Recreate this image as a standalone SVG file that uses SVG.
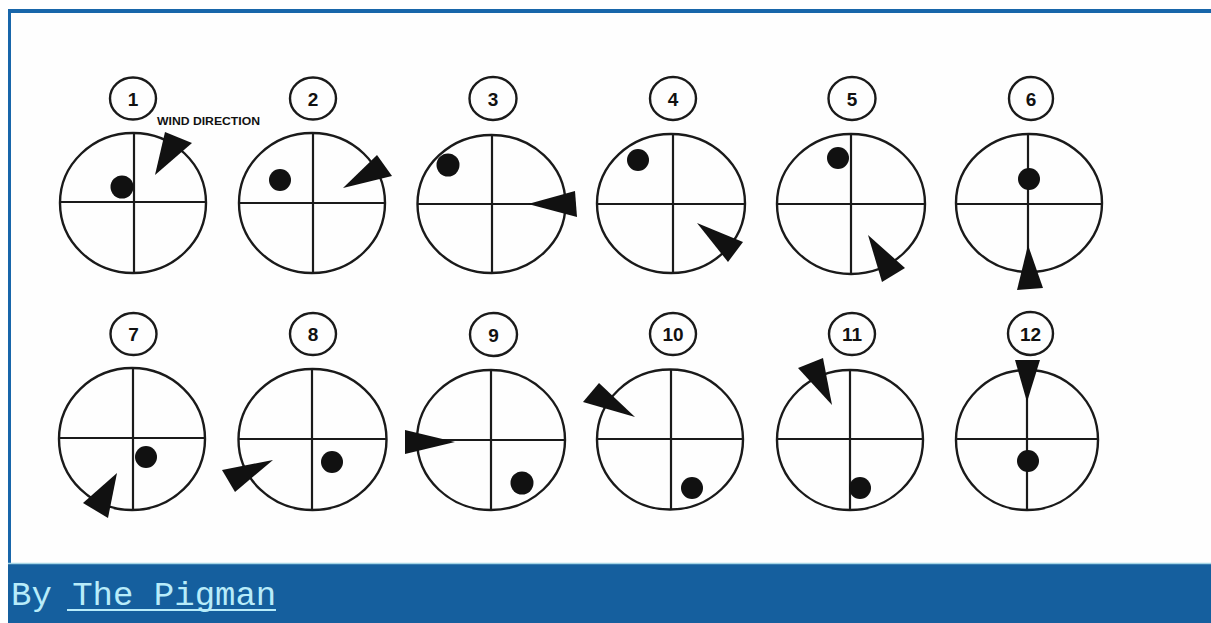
<svg xmlns="http://www.w3.org/2000/svg" width="1211" height="623" viewBox="0 0 1211 623">
<style>
.ring{fill:none;stroke:#1a1a1a;stroke-width:2.4}
.cross{stroke:#1a1a1a;stroke-width:2.2}
.lab{fill:none;stroke:#1a1a1a;stroke-width:2.4}
.num{font-family:"Liberation Sans",Arial,sans-serif;font-weight:bold;font-size:19px;fill:#111;text-anchor:middle}
.dot{fill:#111}
.arw{fill:#111}
.foot{font-family:"Liberation Mono","DejaVu Sans Mono",monospace;font-size:34px;fill:#b8ecfa}
</style>
<rect x="0" y="0" width="1211" height="623" fill="#ffffff"/>
<rect x="8" y="9" width="1203" height="614" fill="#1866aa"/>
<rect x="11" y="13" width="1200" height="550" fill="#fefefe"/>
<rect x="8" y="563" width="1203" height="60" fill="#155f9e"/>
<line x1="8" y1="563.5" x2="1211" y2="563.5" stroke="#a6d6e6" stroke-width="1.5"/>

<g id="panel1">
<ellipse class="lab" cx="133" cy="98.5" rx="23" ry="21"/>
<text class="num" x="133" y="106">1</text>
<text x="157" y="125" font-family="Liberation Sans,Arial,sans-serif" font-weight="bold" font-size="10" textLength="103" lengthAdjust="spacingAndGlyphs" fill="#111">WIND DIRECTION</text>
<ellipse class="ring" cx="133" cy="203" rx="73" ry="70"/>
<line class="cross" x1="60" y1="202" x2="206" y2="202"/>
<line class="cross" x1="134" y1="133" x2="134" y2="273"/>
<circle class="dot" cx="122" cy="187" r="11.5"/>
<polygon class="arw" points="155,175 165,132 192,143"/>
</g>

<g id="panel2">
<ellipse class="lab" cx="313" cy="98.5" rx="23" ry="21"/>
<text class="num" x="313" y="106">2</text>
<ellipse class="ring" cx="312" cy="203" rx="73" ry="70"/>
<line class="cross" x1="239" y1="203" x2="385" y2="203"/>
<line class="cross" x1="313" y1="133" x2="313" y2="273"/>
<circle class="dot" cx="280" cy="180" r="11"/>
<polygon class="arw" points="343,188 377,155 392,176"/>
</g>

<g id="panel3">
<ellipse class="lab" cx="493" cy="98.5" rx="23.5" ry="21.5"/>
<text class="num" x="493" y="106">3</text>
<ellipse class="ring" cx="491.5" cy="204" rx="74" ry="69"/>
<line class="cross" x1="418" y1="204" x2="565" y2="204"/>
<line class="cross" x1="492" y1="135" x2="492" y2="273"/>
<circle class="dot" cx="448" cy="165" r="11.5"/>
<polygon class="arw" points="528,204 575,191 577,217"/>
</g>

<g id="panel4">
<ellipse class="lab" cx="673" cy="98.5" rx="23" ry="21.5"/>
<text class="num" x="673" y="106">4</text>
<ellipse class="ring" cx="671" cy="203.5" rx="74" ry="69.5"/>
<line class="cross" x1="597" y1="204" x2="745" y2="204"/>
<line class="cross" x1="673" y1="134" x2="673" y2="273"/>
<circle class="dot" cx="638" cy="160" r="11"/>
<polygon class="arw" points="697,223 743,242 728,262"/>
</g>

<g id="panel5">
<ellipse class="lab" cx="852" cy="98.5" rx="23.5" ry="21.5"/>
<text class="num" x="852" y="106">5</text>
<ellipse class="ring" cx="851" cy="204" rx="74" ry="70"/>
<line class="cross" x1="777" y1="204" x2="925" y2="204"/>
<line class="cross" x1="851" y1="134" x2="851" y2="274"/>
<circle class="dot" cx="838" cy="158" r="11"/>
<polygon class="arw" points="868,235 905,268 882,282"/>
</g>

<g id="panel6">
<ellipse class="lab" cx="1031" cy="98.5" rx="22" ry="21.5"/>
<text class="num" x="1031" y="106">6</text>
<ellipse class="ring" cx="1029" cy="203" rx="73" ry="69"/>
<line class="cross" x1="956" y1="204" x2="1102" y2="204"/>
<line class="cross" x1="1028" y1="134" x2="1028" y2="272"/>
<circle class="dot" cx="1029" cy="179" r="11"/>
<polygon class="arw" points="1028,245 1017,290 1043,288"/>
</g>

<g id="panel7">
<ellipse class="lab" cx="133.5" cy="334" rx="23" ry="21"/>
<text class="num" x="133.5" y="341">7</text>
<ellipse class="ring" cx="132" cy="439" rx="73" ry="71"/>
<line class="cross" x1="59" y1="438" x2="204" y2="438"/>
<line class="cross" x1="133" y1="368" x2="133" y2="510"/>
<circle class="dot" cx="146" cy="457" r="11"/>
<polygon class="arw" points="117,473 83,503 108,518"/>
</g>

<g id="panel8">
<ellipse class="lab" cx="313" cy="334" rx="23" ry="21"/>
<text class="num" x="313" y="341">8</text>
<ellipse class="ring" cx="312.5" cy="439.5" rx="74" ry="70.5"/>
<line class="cross" x1="239" y1="439" x2="387" y2="439"/>
<line class="cross" x1="312" y1="369" x2="312" y2="510"/>
<circle class="dot" cx="332" cy="462" r="11"/>
<polygon class="arw" points="273,460 222,470 235,492"/>
</g>

<g id="panel9">
<ellipse class="lab" cx="493.5" cy="334.5" rx="23.5" ry="21.5"/>
<text class="num" x="493.5" y="341.5">9</text>
<ellipse class="ring" cx="491" cy="440" rx="74" ry="70"/>
<line class="cross" x1="417" y1="440" x2="565" y2="440"/>
<line class="cross" x1="491" y1="370" x2="491" y2="510"/>
<circle class="dot" cx="522" cy="483" r="11.5"/>
<polygon class="arw" points="455,442 405,430 405,454"/>
</g>

<g id="panel10">
<ellipse class="lab" cx="673" cy="334" rx="23" ry="21"/>
<text class="num" x="673" y="341">10</text>
<ellipse class="ring" cx="670" cy="439.5" rx="73" ry="70"/>
<line class="cross" x1="597" y1="439" x2="743" y2="439"/>
<line class="cross" x1="671" y1="370" x2="671" y2="510"/>
<circle class="dot" cx="692" cy="488" r="11"/>
<polygon class="arw" points="635,417 583,402 599,383"/>
</g>

<g id="panel11">
<ellipse class="lab" cx="852" cy="334" rx="23" ry="21"/>
<text class="num" x="852" y="341">11</text>
<ellipse class="ring" cx="850" cy="440" rx="73" ry="70"/>
<line class="cross" x1="777" y1="439" x2="923" y2="439"/>
<line class="cross" x1="850" y1="370" x2="850" y2="510"/>
<circle class="dot" cx="860" cy="488" r="11"/>
<polygon class="arw" points="832,405 798,368 823,358"/>
</g>

<g id="panel12">
<ellipse class="lab" cx="1030.5" cy="333.5" rx="22.5" ry="21.5"/>
<text class="num" x="1030.5" y="340.5">12</text>
<ellipse class="ring" cx="1027" cy="440" rx="71" ry="70"/>
<line class="cross" x1="956" y1="439" x2="1098" y2="439"/>
<line class="cross" x1="1027" y1="370" x2="1027" y2="510"/>
<circle class="dot" cx="1028" cy="461" r="11"/>
<polygon class="arw" points="1027,402 1015,360 1040,360"/>
</g>

<g id="footer">
<text class="foot" x="11" y="605">By <tspan>The Pigman</tspan></text>
<line x1="67" y1="610" x2="276" y2="610" stroke="#b8ecfa" stroke-width="2"/>
</g>
</svg>
